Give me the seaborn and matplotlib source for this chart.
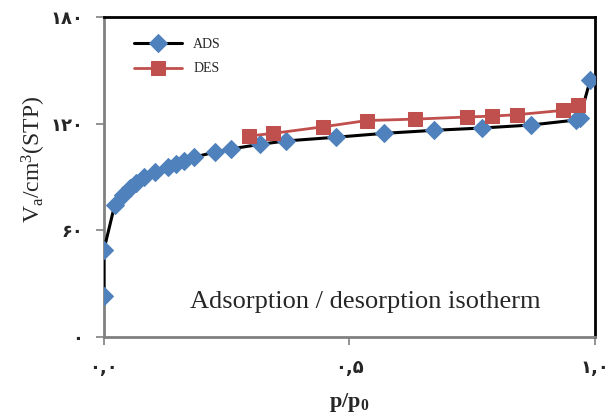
import matplotlib
matplotlib.use("Agg")
import matplotlib.pyplot as plt
import seaborn as sns
import pandas as pd

ads_x = [0.0, 0.0, 0.022, 0.038, 0.054, 0.065, 0.082, 0.104, 0.130, 0.147, 0.163, 0.184,
         0.227, 0.258, 0.318, 0.370, 0.472, 0.571, 0.672, 0.770, 0.870, 0.961, 0.969, 0.990]
ads_y = [23.1, 48.9, 74.2, 79.9, 84.0, 86.8, 89.8, 92.8, 95.8, 97.6, 99.3, 101.2,
         104.1, 105.8, 108.4, 110.3, 112.4, 114.6, 116.3, 117.6, 119.3, 122.1, 123.4, 144.6]
des_x = [0.295, 0.345, 0.447, 0.535, 0.634, 0.739, 0.790, 0.841, 0.934, 0.965]
des_y = [113.1, 114.6, 118.3, 121.8, 122.6, 123.8, 124.3, 125.1, 127.5, 130.7]

y_ticks = [0, 60, 120, 180]
y_tick_labels = ["۰", "۶۰", "۱۲۰", "۱۸۰"]
x_ticks = [0.0, 0.5, 1.0]
x_tick_labels = ["۰,۰", "۰,۵", "۱,۰"]

sns.set_theme(style="white")
plt.rcParams['font.family'] = ['Liberation Serif', 'DejaVu Sans']
plt.rcParams['mathtext.fontset'] = 'custom'
plt.rcParams['mathtext.rm'] = 'Liberation Serif'
plt.rcParams['mathtext.bf'] = 'Liberation Serif:bold'

fig = plt.figure(figsize=(6.11, 4.19), dpi=100)
ax = fig.add_axes([0.170, 0.196, 0.804, 0.763])

ads = pd.DataFrame({"x": ads_x, "y": ads_y})
des = pd.DataFrame({"x": des_x, "y": des_y})

sns.lineplot(data=ads, x="x", y="y", ax=ax, sort=False, estimator=None, color="black",
             linewidth=2.2, marker="D", markersize=9, markerfacecolor="#4F81BD",
             markeredgecolor="#4F81BD", label="ADS", zorder=3)
sns.lineplot(data=des, x="x", y="y", ax=ax, sort=False, estimator=None, color="#C0504D",
             linewidth=2.0, marker="s", markersize=10.5, markerfacecolor="#C0504D",
             markeredgecolor="#C0504D", label="DES", zorder=4)

ax.set_xlim(0, 1.0)
ax.set_ylim(0, 180)
ax.set_xticks(x_ticks)
ax.set_xticklabels(x_tick_labels, family=['DejaVu Sans'], fontweight='bold', fontsize=13)
ax.set_yticks(y_ticks)
ax.set_yticklabels(y_tick_labels, family=['DejaVu Sans'], fontweight='bold', fontsize=13)
ax.tick_params(axis='both', direction='out', length=6, width=1.2, color='#808080',
               bottom=True, left=True)
ax.tick_params(axis='x', pad=10)
ax.tick_params(axis='y', pad=9)

for s in ['left', 'bottom']:
    ax.spines[s].set_color('#808080')
    ax.spines[s].set_linewidth(2)
for s in ['top', 'right']:
    ax.spines[s].set_color('black')
    ax.spines[s].set_linewidth(2)

ax.set_xlabel(r"$\mathbf{p/p_0}$", fontsize=16, labelpad=10)
ax.set_ylabel(r"$\mathrm{V_a/cm^3(STP)}$", fontsize=17)
ax.yaxis.set_label_coords(-0.113, 0.556)

ax.text(0.532, 0.11, "Adsorption / desorption isotherm", transform=ax.transAxes,
        ha='center', va='center', fontsize=19)

leg = ax.legend(loc='upper left', bbox_to_anchor=(0.035, 0.975), frameon=False, fontsize=10,
                handlelength=3.5, labelspacing=0.85)

fig.savefig("out.png", dpi=100)
